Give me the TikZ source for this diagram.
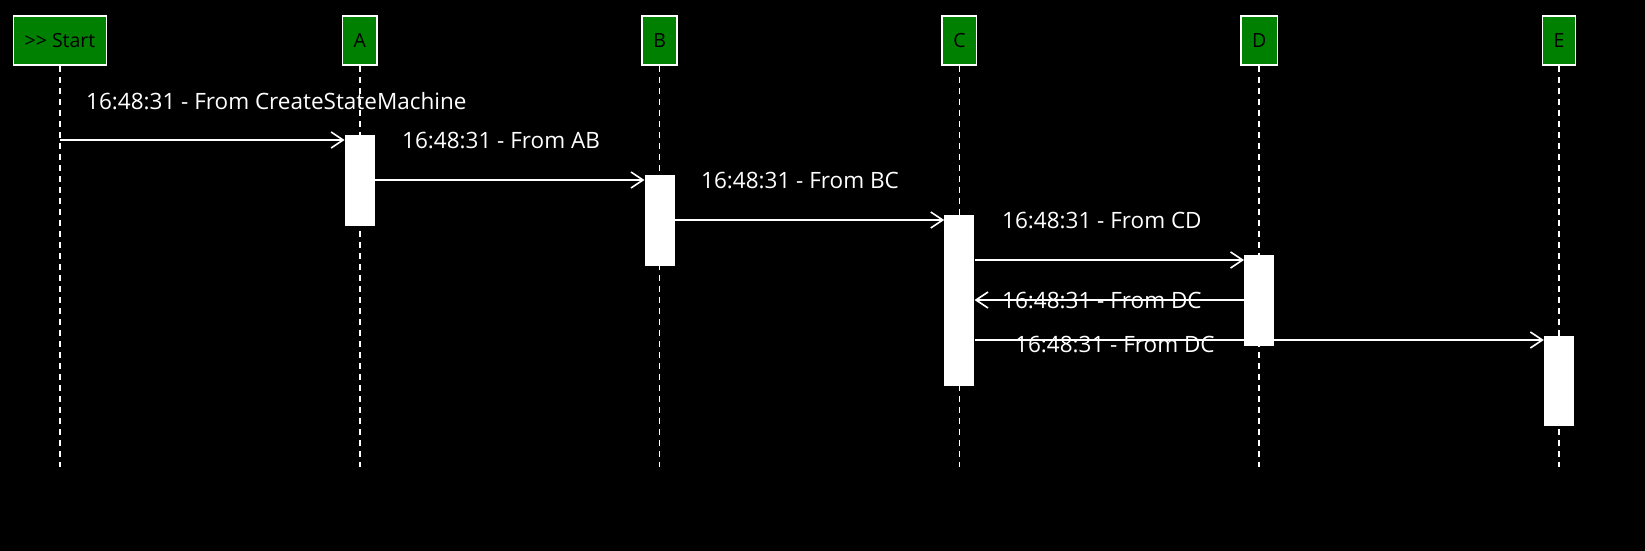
\documentclass[tikz,border=0pt]{standalone}
\usepackage{fontspec}
\setmainfont{Open Sans}
\usetikzlibrary{arrows.meta}
\usetikzlibrary{positioning}

\definecolor{headgreen}{RGB}{0,128,0}

\tikzset{
  head/.style={draw=white, line width=1.6pt, fill=headgreen, text=black,
    minimum height=49pt, inner xsep=11pt, font=\fontsize{19.5}{22}\selectfont},
  life/.style={white, line width=1.6pt, dash pattern=on 6pt off 5pt},
  act/.style={fill=white, minimum width=30pt, inner sep=0pt},
  msg/.style={white, line width=1.6pt,
    -{Straight Barb[length=12pt,width=16pt,line width=1.6pt]}},
  lbl/.style={text=white, anchor=base west, inner sep=0pt,
    font=\fontsize{22.5}{26}\selectfont}
}

\begin{document}
\begin{tikzpicture}[x=1pt,y=-1pt]

\useasboundingbox[fill=black] (0,0) rectangle (1645,551);

% heads
\node[head] (hS) at (60,40.5) {>\kern0pt> Start};
\foreach \n/\x in {A/359.8, B/659.6, C/959.4, D/1259.2, E/1559}
  \node[head] (h\n) at (\x,40.5) {\n};

% lifelines
\coordinate (bottom) at (0,467);
\foreach \n in {S,A,B,C,D,E}
  \draw[life] (h\n.south) -- (h\n.south |- bottom);

% activations
\node[act, minimum height=91pt] (aA) at (hA |- 0,180.5) {};
\node[act, minimum height=91pt] (aB) at (hB |- 0,220.5) {};
\node[act, minimum height=171pt] (aC) at (hC |- 0,300.5) {};
\node[act, minimum height=91pt] (aD) at (hD |- 0,300.5) {};
\node[act, minimum height=90pt] (aE) at (hE |- 0,381) {};

% messages
\coordinate (m1) at (0,140);
\coordinate (m2) at (0,180);
\coordinate (m3) at (0,220);
\coordinate (m4) at (0,260);
\coordinate (m5) at (0,300);
\coordinate (m6) at (0,340);

\draw[msg] (hS.south |- m1) -- (aA.west |- m1);
\draw[msg] (aA.east |- m2) -- (aB.west |- m2);
\draw[msg] (aB.east |- m3) -- (aC.west |- m3);
\draw[msg] (aC.east |- m4) -- (aD.west |- m4);
\draw[msg] (aD.west |- m5) -- (aC.east |- m5);
\draw[msg] (aC.east |- m6) -- (aE.west |- m6);

\path
(86,109) node[lbl] (l1) {16:48:31 - From CreateStateMachine}
(402,148) node[lbl] (l2) {16:48:31 - From AB}
(701,188) node[lbl] (l3) {16:48:31 - From BC}
(1002,228) node[lbl] (l4) {16:48:31 - From CD}
(1002,308) node[lbl] (l5) {16:48:31 - From DC}
(1015,352) node[lbl] (l6) {16:48:31 - From DC};

\end{tikzpicture}
\end{document}
